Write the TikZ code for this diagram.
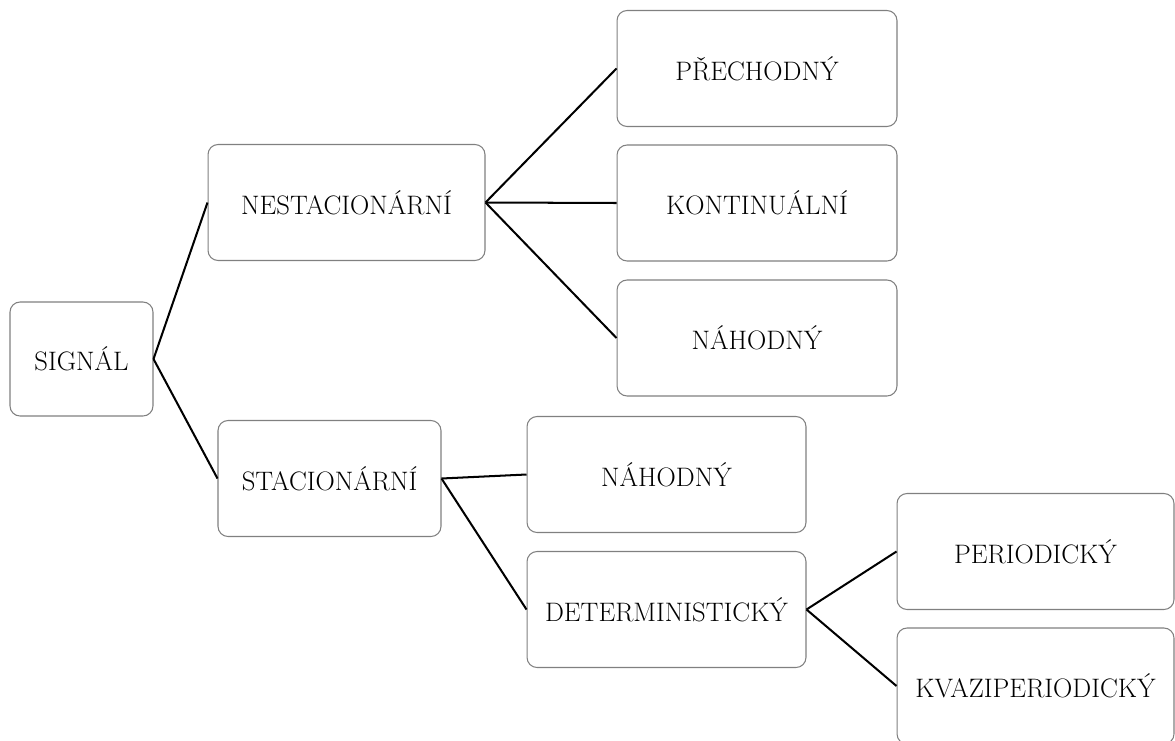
\documentclass[tikz,border=0pt]{standalone}
\begin{document}
\begin{tikzpicture}[x=0.02cm,y=-0.02cm,
  box/.style={draw=black!50,line width=0.6pt,rounded corners=0.2cm,minimum width=5.6cm,minimum height=2.32cm,inner sep=0pt,font=\fontsize{15.2}{18}\selectfont},
  every edge/.style={draw,line width=1.15pt}]
\useasboundingbox (0,0) rectangle (1175,740);
\node[box,minimum width=2.86cm,minimum height=2.28cm] (v1) at (81.5,359) {SIGNÁL};
\node[box,minimum width=5.54cm] (v2) at (346.5,202.5) {NESTACIONÁRNÍ};
\node[box,minimum width=4.46cm] (v3) at (329.5,478.5) {STACIONÁRNÍ};
\node[box] (v4) at (757,68.5) {PŘECHODNÝ};
\node[box] (v5) at (757,203) {KONTINUÁLNÍ};
\node[box] (v6) at (757,338) {NÁHODNÝ};
\node[box,minimum width=5.58cm] (v7) at (666.5,474.5) {NÁHODNÝ};
\node[box,minimum width=5.58cm] (v8) at (666.5,609.5) {DETERMINISTICKÝ};
\node[box,minimum width=5.54cm] (v9) at (1035.5,551.5) {PERIODICKÝ};
\node[box,minimum width=5.54cm] (v10) at (1035.5,686) {KVAZIPERIODICKÝ};
\draw  (v1.east) edge (v2.west);
\draw  (v1.east) edge (v3.west);
\draw  (v2.east) edge (v4.west);
\draw  (v2.east) edge (v5.west);
\draw  (v2.east) edge (v6.west);
\draw  (v3.east) edge (v7.west);
\draw  (v3.east) edge (v8.west);
\draw  (v8.east) edge (v9.west);
\draw  (v8.east) edge (v10.west);
\end{tikzpicture}
\end{document}
